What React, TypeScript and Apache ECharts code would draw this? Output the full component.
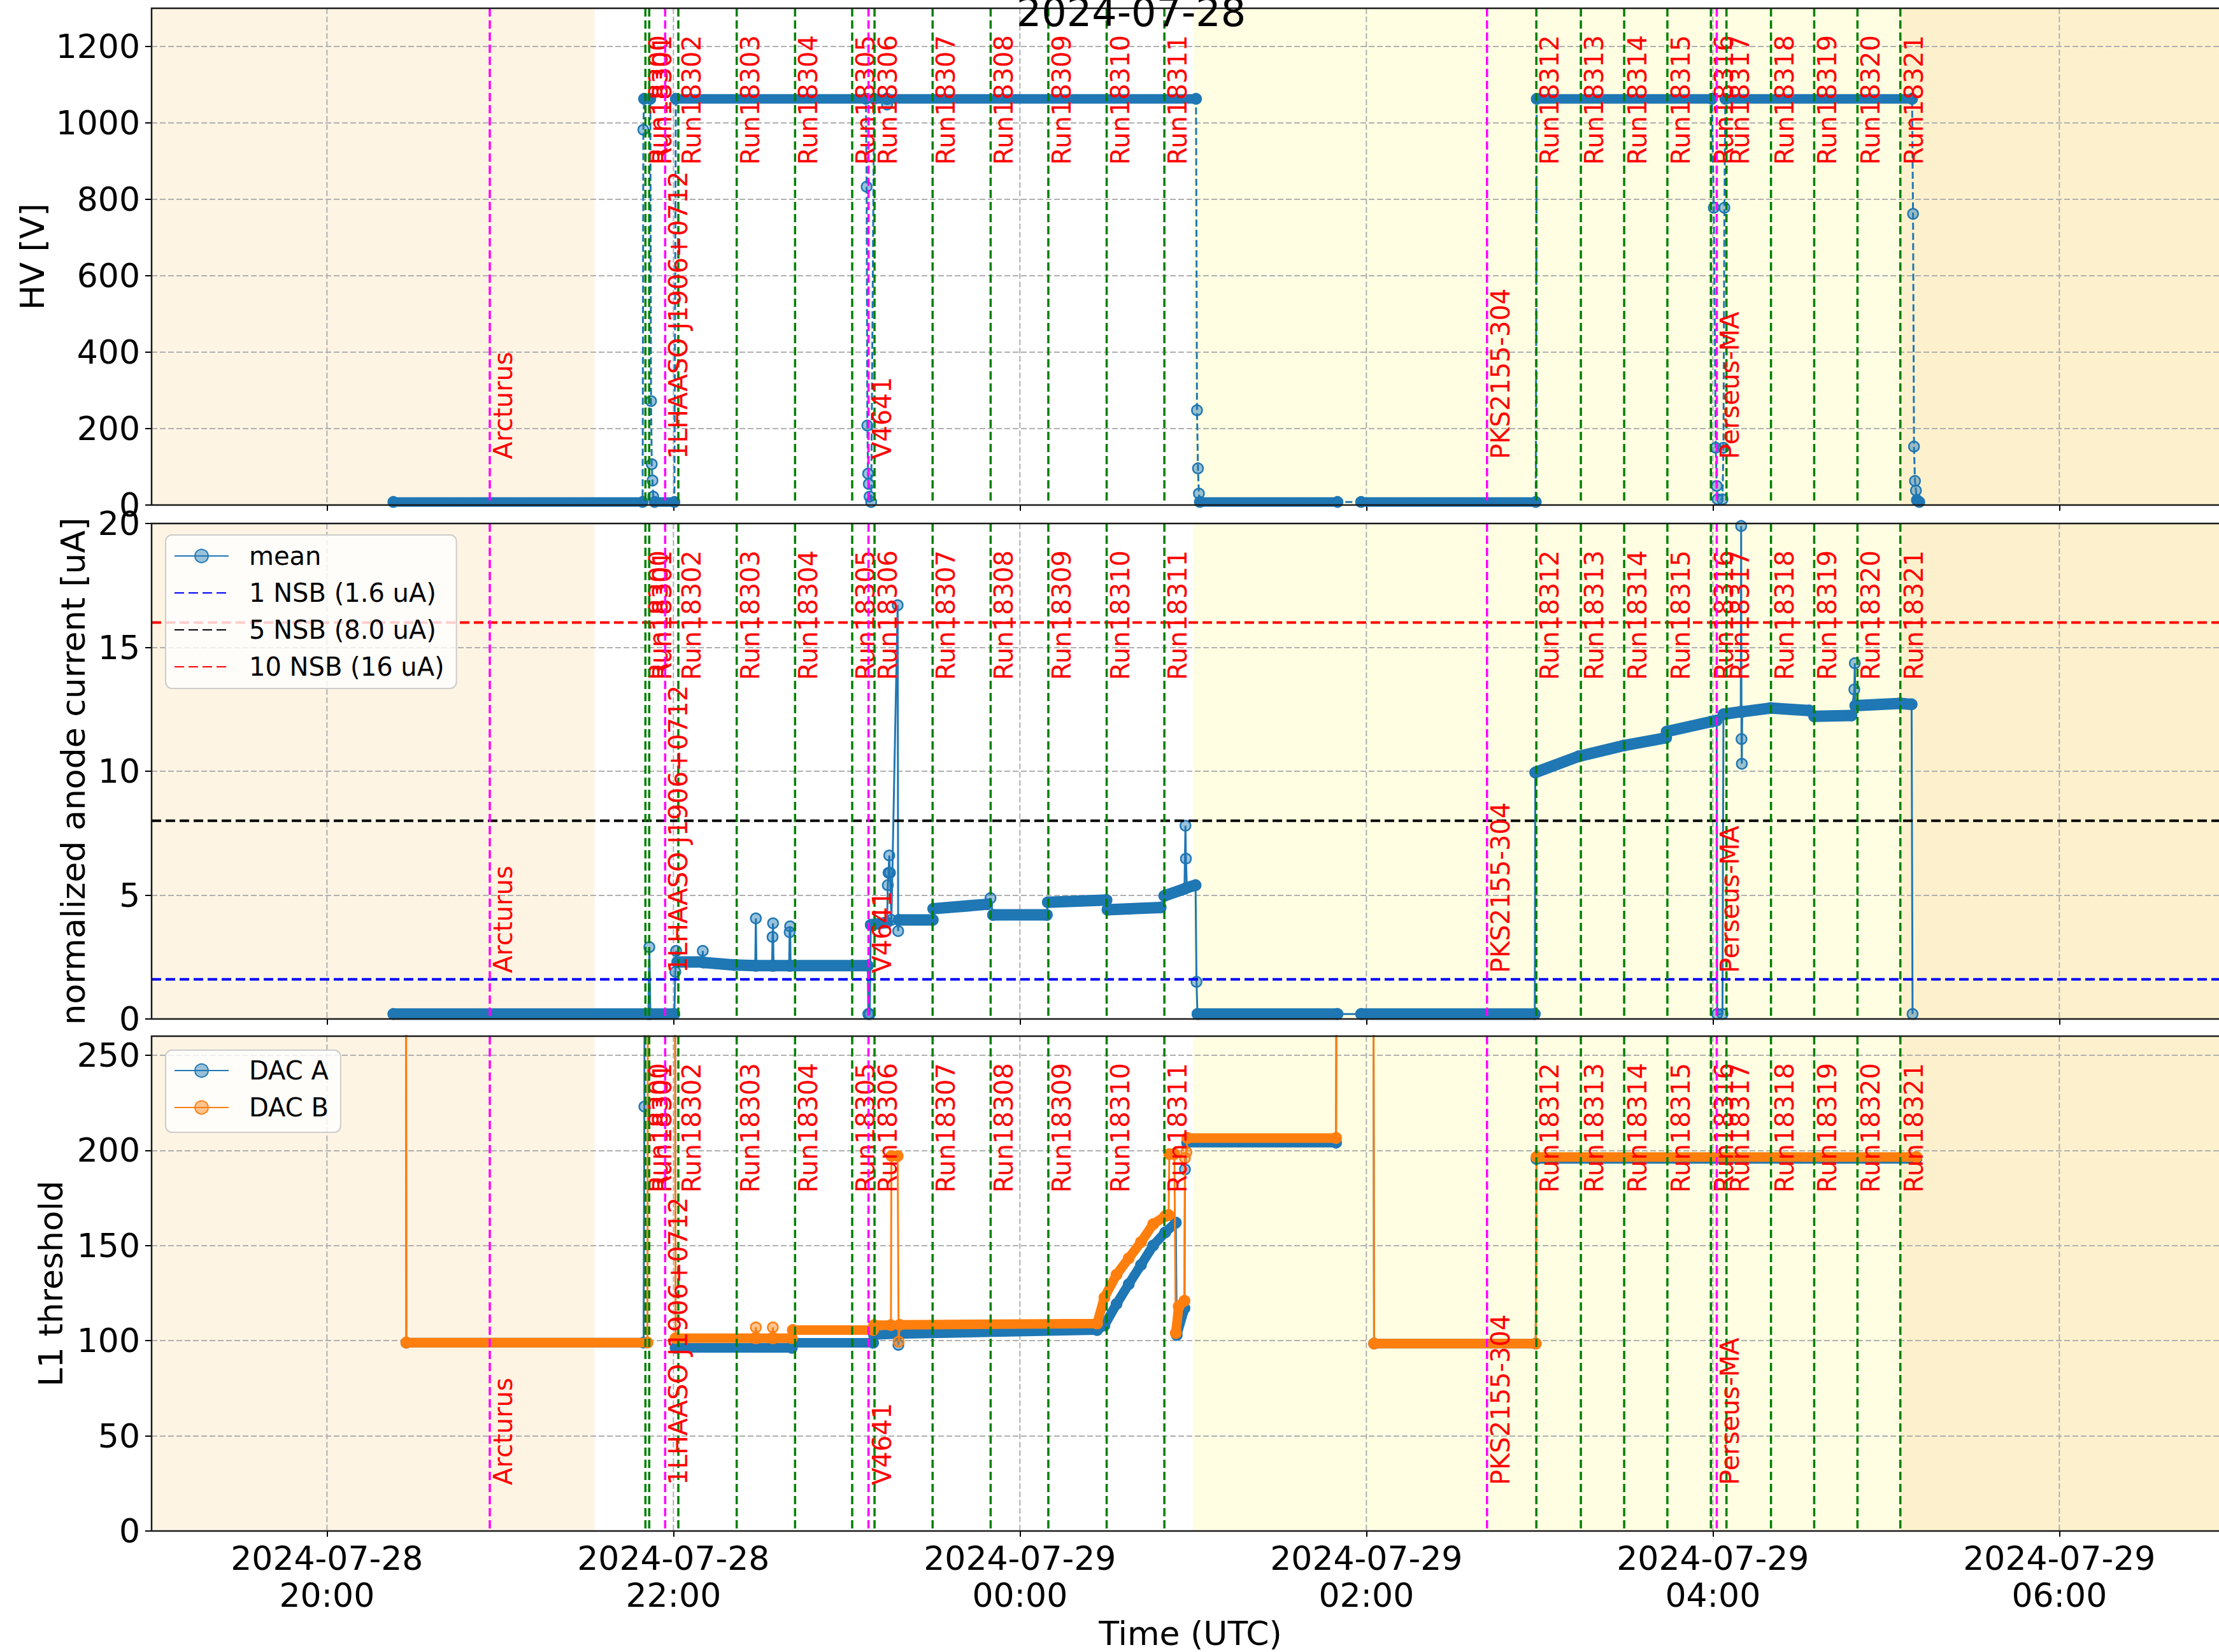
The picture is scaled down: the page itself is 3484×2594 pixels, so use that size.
import React, { useEffect, useRef } from "react";
import * as echarts from "echarts";

const FONT = "DejaVu Sans";
const BLUE = "#1f77b4";
const ORANGE = "#ff7f0e";
const BLUE_FILL = "rgba(31,119,180,0.45)";
const ORANGE_FILL = "rgba(255,127,14,0.45)";

// ---------- time helper (hours >= 12 are on 2024-07-28, others on 2024-07-29) ----------
const toMs = (s: string): number => {
  const [h, m, sec] = s.split(":").map(Number);
  return Date.UTC(2024, 6, h >= 12 ? 28 : 29, h, m, sec || 0);
};

// ---------- texts / ticks ----------
const titleText = "2024-07-28";
const xStart = "18:59:16";
const xEnd = "06:55:18";
const xTickTimes = ["20:00:00", "22:00:00", "00:00:00", "02:00:00", "04:00:00", "06:00:00"];
const yNames = ["HV [V]", "normalized anode current [uA]", "L1 threshold"];
const yMaxes = [1300, 20, 260];
const ySteps = [200, 5, 50];

// ---------- background spans ----------
const bgSpanStarts = ["18:00:00", "00:59:56", "05:05:00"];
const bgSpanEnds = ["21:32:40", "05:05:00", "08:00:00"];
const bgColors = ["#fdf4e3", "#fffee3", "#fdf1cd"];

// ---------- runs & sources ----------
const runNames = [
  "Run18300", "Run18301", "Run18302", "Run18303", "Run18304", "Run18305", "Run18306", "Run18307",
  "Run18308", "Run18309", "Run18310", "Run18311", "Run18312", "Run18313", "Run18314", "Run18315",
  "Run18316", "Run18317", "Run18318", "Run18319", "Run18320", "Run18321",
];
const runTimes = [
  "21:50:18", "21:51:37", "22:01:42", "22:21:55", "22:42:08", "23:01:55", "23:09:39", "23:29:46",
  "23:49:52", "00:09:51", "00:30:03", "00:50:02", "02:58:52", "03:14:17", "03:29:17", "03:44:15",
  "03:59:19", "04:04:43", "04:20:08", "04:35:06", "04:50:05", "05:04:56",
];
const sourceNames = ["Arcturus", "1LHAASO J1906+0712", "V4641", "PKS2155-304", "Perseus-MA"];
const sourceTimes = ["20:56:24", "21:57:08", "23:07:34", "02:41:47", "04:01:21"];

// ---------- NSB reference levels ----------
const nsbNames = ["1 NSB (1.6 uA)", "5 NSB (8.0 uA)", "10 NSB (16 uA)"];
const nsbLevels = [1.6, 8.0, 16.0];
const nsbColors = ["#0000ff", "#000000", "#ff0000"];

// ---------- data: [time, value, dense-run-to-next-point flag] ----------
const hvPoints: [string, number, number][] = [
  ["20:23:00", 8, 1], ["21:49:20", 8, 0], ["21:49:35", 982, 0], ["21:49:50", 1063, 1],
  ["21:52:00", 1063, 0], ["21:52:15", 272, 0], ["21:52:30", 107, 0], ["21:52:45", 64, 0],
  ["21:53:00", 22, 0], ["21:53:30", 8, 1], ["22:00:20", 8, 0], ["22:00:50", 1063, 1],
  ["23:06:40", 1063, 0], ["23:06:55", 833, 0], ["23:07:10", 208, 0], ["23:07:25", 82, 0],
  ["23:07:40", 55, 0], ["23:07:55", 22, 0], ["23:08:30", 8, 0], ["23:09:30", 1063, 1],
  ["23:13:50", 1063, 0], ["23:14:00", 1048, 0], ["23:14:10", 1063, 1], ["01:01:00", 1063, 0],
  ["01:01:20", 248, 0], ["01:01:40", 96, 0], ["01:02:00", 30, 0], ["01:02:20", 8, 1],
  ["01:50:00", 8, 0], ["01:58:10", 8, 1], ["02:58:40", 8, 0], ["02:59:00", 1063, 1],
  ["03:59:40", 1063, 0], ["04:00:20", 778, 0], ["04:01:00", 150, 0], ["04:01:20", 50, 0],
  ["04:01:40", 15, 0], ["04:03:20", 15, 0], ["04:03:40", 150, 0], ["04:04:00", 778, 0],
  ["04:04:20", 1063, 1], ["05:09:00", 1063, 0], ["05:09:20", 762, 0], ["05:09:40", 153, 0],
  ["05:10:00", 63, 0], ["05:10:20", 38, 0], ["05:10:40", 13, 1], ["05:11:30", 8, 0],
];

const currentPoints: [string, number, number][] = [
  ["20:23:00", 0.2, 1], ["21:51:20", 0.2, 0], ["21:51:40", 2.9, 0], ["21:52:00", 0.2, 1],
  ["22:00:20", 0.2, 0], ["22:00:40", 1.9, 0], ["22:00:55", 2.75, 0], ["22:01:20", 2.3, 1],
  ["22:10:00", 2.3, 0], ["22:10:10", 2.75, 0], ["22:10:20", 2.28, 1], ["22:21:00", 2.18, 1],
  ["22:28:20", 2.15, 0], ["22:28:33", 4.06, 0], ["22:28:45", 2.15, 1], ["22:34:10", 2.15, 0],
  ["22:34:20", 3.31, 0], ["22:34:30", 3.86, 0], ["22:34:40", 2.15, 1], ["22:40:05", 2.15, 0],
  ["22:40:15", 3.5, 0], ["22:40:25", 3.74, 0], ["22:40:35", 2.15, 1], ["23:07:20", 2.15, 0],
  ["23:07:30", 0.2, 0], ["23:08:00", 0.2, 0], ["23:08:20", 3.8, 1], ["23:14:00", 3.9, 0],
  ["23:14:15", 5.4, 0], ["23:14:30", 5.9, 0], ["23:14:45", 6.6, 0], ["23:15:00", 5.9, 0],
  ["23:15:30", 4.0, 0], ["23:17:40", 16.7, 0], ["23:17:50", 3.55, 0], ["23:18:00", 4.0, 1],
  ["23:29:50", 4.0, 0], ["23:30:00", 4.45, 1], ["23:48:40", 4.63, 0], ["23:49:50", 4.88, 0],
  ["23:50:40", 4.2, 1], ["00:09:20", 4.2, 0], ["00:09:40", 4.71, 1], ["00:30:00", 4.8, 0],
  ["00:30:20", 4.41, 1], ["00:48:45", 4.5, 0], ["00:50:00", 4.97, 1], ["00:57:00", 5.25, 0],
  ["00:57:20", 7.8, 0], ["00:57:30", 6.47, 0], ["00:57:50", 5.3, 1], ["01:00:50", 5.4, 0],
  ["01:01:10", 1.5, 0], ["01:01:30", 0.2, 1], ["01:50:00", 0.2, 0], ["01:58:10", 0.2, 1],
  ["02:58:20", 0.2, 0], ["02:58:30", 9.95, 1], ["03:13:30", 10.6, 1], ["03:29:15", 11.04, 1],
  ["03:43:50", 11.35, 0], ["03:44:00", 11.6, 1], ["03:59:20", 12.0, 1], ["04:01:20", 12.05, 0],
  ["04:01:30", 0.2, 0], ["04:03:20", 0.2, 0], ["04:03:40", 12.3, 1], ["04:09:40", 12.4, 0],
  ["04:09:48", 19.9, 0], ["04:09:55", 11.3, 0], ["04:10:02", 10.3, 0], ["04:10:10", 12.4, 1],
  ["04:19:55", 12.55, 1], ["04:33:25", 12.45, 0], ["04:35:05", 12.22, 1], ["04:48:00", 12.25, 0],
  ["04:49:00", 13.3, 0], ["04:49:10", 14.36, 0], ["04:49:20", 12.65, 1], ["05:04:55", 12.74, 1],
  ["05:08:50", 12.7, 0], ["05:09:10", 0.2, 0],
];

const dacAPoints: [string, number, number][] = [
  ["20:27:20", 400, 0], ["20:27:30", 99, 1], ["21:49:40", 99, 0], ["21:49:56", 223, 0],
  ["21:50:10", 400, 0], ["22:00:30", 400, 0], ["22:00:45", 96.2, 1], ["22:41:00", 96.2, 0],
  ["22:41:20", 98.9, 1], ["23:09:10", 98.9, 0], ["23:09:30", 103, 1], ["23:17:40", 103.5, 0],
  ["23:17:55", 97.8, 0], ["23:18:10", 103.5, 1], ["00:26:44", 105.6, 1], ["00:29:16", 108, 1],
  ["00:33:28", 119.3, 1], ["00:37:42", 129.7, 1], ["00:41:56", 139.8, 1], ["00:46:09", 150, 1],
  ["00:50:21", 156.9, 1], ["00:54:00", 162, 0], ["00:54:20", 103, 1], ["00:57:00", 117, 0],
  ["00:57:10", 190, 0], ["00:57:55", 204, 1], ["01:49:30", 204, 0], ["01:49:50", 400, 0],
  ["02:02:20", 400, 0], ["02:02:40", 98.5, 1], ["02:58:40", 98.5, 0], ["02:58:55", 195.5, 1],
  ["05:10:30", 195.5, 0],
];

const dacBPoints: [string, number, number][] = [
  ["20:27:20", 400, 0], ["20:27:30", 99, 1], ["21:51:00", 99, 0], ["21:51:15", 400, 0],
  ["22:00:30", 400, 0], ["22:00:45", 101.3, 1], ["22:28:15", 101.3, 0], ["22:28:33", 107, 0],
  ["22:28:50", 101.3, 1], ["22:34:10", 101.3, 0], ["22:34:26", 107, 0], ["22:34:45", 101.3, 1],
  ["22:41:00", 101.3, 0], ["22:41:20", 105.6, 1], ["23:09:10", 105.6, 0], ["23:09:30", 108.2, 1],
  ["23:15:20", 108.2, 0], ["23:15:30", 197, 1], ["23:17:40", 197, 0], ["23:18:00", 99.5, 0],
  ["23:18:20", 108.3, 1], ["00:26:44", 109, 1], ["00:29:16", 122.7, 1], ["00:33:28", 134.7, 1],
  ["00:37:42", 143.3, 1], ["00:41:56", 151.8, 1], ["00:46:09", 161.2, 1], ["00:50:21", 165.5, 1],
  ["00:51:30", 166, 0], ["00:51:45", 198, 1], ["00:53:30", 198, 0], ["00:54:00", 104, 1],
  ["00:55:00", 118, 1], ["00:57:00", 121, 0], ["00:57:10", 196, 0], ["00:57:40", 199, 0],
  ["00:58:00", 206.5, 1], ["01:49:30", 206.5, 0], ["01:49:50", 400, 0], ["02:02:20", 400, 0],
  ["02:02:40", 98.5, 1], ["02:58:40", 98.5, 0], ["02:58:55", 196.5, 1], ["05:10:30", 196.5, 0],
];

// ---------- layout ----------
const LEFT = 238;
const RIGHT = 0;
const PLOT_W = 3484 - LEFT - RIGHT;
const panels = [
  { top: 13, height: 780, nameGap: 160 },
  { top: 822, height: 778, nameGap: 97 },
  { top: 1627, height: 777, nameGap: 132 },
];

// ---------- builders ----------
const toLine = (pts: [string, number, number][]) => pts.map((p) => [toMs(p[0]), p[1]]);
const toBands = (pts: [string, number, number][]) => {
  const out: any[] = [];
  for (let i = 0; i < pts.length - 1; i++) {
    if (!pts[i][2]) continue;
    const startsRun = i === 0 || !pts[i - 1][2];
    if (startsRun) {
      if (out.length) out.push([toMs(pts[i][0]), null]);
      out.push([toMs(pts[i][0]), pts[i][1]]);
    }
    out.push([toMs(pts[i + 1][0]), pts[i + 1][1]]);
  }
  return out;
};

const pad2 = (n: number) => String(n).padStart(2, "0");
const fmtTime = (v: number) => {
  const d = new Date(v);
  return `${d.getUTCFullYear()}-${pad2(d.getUTCMonth() + 1)}-${pad2(d.getUTCDate())}\n${pad2(
    d.getUTCHours()
  )}:${pad2(d.getUTCMinutes())}`;
};

const events = [
  ...runNames.map((n, i) => ({ name: n, t: toMs(runTimes[i]), kind: 0 })),
  ...sourceNames.map((n, i) => ({ name: n, t: toMs(sourceTimes[i]), kind: 1 })),
];

function buildOption() {
  const xMin = toMs(xStart);
  const xMax = toMs(xEnd);
  const xTicks = xTickTimes.map(toMs);
  const series: any[] = [];

  panels.forEach((p, g) => {
    // background spans
    series.push({
      type: "custom",
      xAxisIndex: g,
      yAxisIndex: g,
      z: -2,
      silent: true,
      clip: false,
      data: bgSpanStarts.map((s, i) => [toMs(s), 0, toMs(bgSpanEnds[i])]),
      renderItem: (params: any, api: any) => {
        const cs = params.coordSys;
        let x1 = api.coord([api.value(0), 0])[0];
        let x2 = api.coord([api.value(2), 0])[0];
        x1 = Math.max(x1, cs.x);
        x2 = Math.min(x2, cs.x + cs.width);
        if (x2 <= x1) return null;
        return {
          type: "rect",
          shape: { x: x1, y: cs.y, width: x2 - x1, height: cs.height },
          style: { fill: bgColors[params.dataIndex] },
        };
      },
    });
    // vertical grid lines
    series.push({
      type: "custom",
      xAxisIndex: g,
      yAxisIndex: g,
      z: -1,
      silent: true,
      clip: false,
      data: xTicks.map((t) => [t, 0]),
      renderItem: (params: any, api: any) => {
        const cs = params.coordSys;
        const x = api.coord([api.value(0), 0])[0];
        return {
          type: "line",
          shape: { x1: x, y1: cs.y, x2: x, y2: cs.y + cs.height },
          style: { stroke: "#b0b0b0", lineWidth: 2, lineDash: [9, 4] },
        };
      },
    });
  });

  const addPair = (
    g: number,
    name: string,
    pts: [string, number, number][],
    color: string,
    fill: string,
    bandWidth: number,
    dash: any,
    z: number
  ) => {
    series.push({
      type: "line",
      name: name + " band",
      xAxisIndex: g,
      yAxisIndex: g,
      data: toBands(pts),
      symbol: "none",
      showSymbol: false,
      connectNulls: false,
      lineStyle: { color, width: bandWidth, cap: "round", join: "round" },
      itemStyle: { color },
      z,
      silent: true,
    });
    series.push({
      type: "line",
      name,
      xAxisIndex: g,
      yAxisIndex: g,
      data: toLine(pts),
      symbol: "circle",
      symbolSize: 16,
      showSymbol: true,
      showAllSymbol: true,
      lineStyle: { color, width: 3, type: dash },
      itemStyle: { color: fill, borderColor: color, borderWidth: 2.5 },
      z: z + 1,
      silent: true,
    });
  };

  addPair(0, "HV", hvPoints, BLUE, BLUE_FILL, 15, [11, 5], 2);
  addPair(1, "mean", currentPoints, BLUE, BLUE_FILL, 18, "solid", 2);
  addPair(2, "DAC A", dacAPoints, BLUE, BLUE_FILL, 15, "solid", 2);
  addPair(2, "DAC B", dacBPoints, ORANGE, ORANGE_FILL, 15, "solid", 4);

  nsbLevels.forEach((lv, i) => {
    series.push({
      type: "line",
      name: nsbNames[i],
      xAxisIndex: 1,
      yAxisIndex: 1,
      data: [
        [xMin, lv],
        [xMax, lv],
      ],
      symbol: "none",
      showSymbol: false,
      lineStyle: { color: nsbColors[i], width: 4, type: [15, 7] },
      itemStyle: { color: nsbColors[i] },
      z: 6,
      silent: true,
    });
  });

  panels.forEach((p, g) => {
    series.push({
      type: "custom",
      xAxisIndex: g,
      yAxisIndex: g,
      z: 8,
      silent: true,
      clip: false,
      data: events.map((e) => [e.t, 0]),
      renderItem: (params: any, api: any) => {
        const cs = params.coordSys;
        const e = events[params.dataIndex];
        const x = api.coord([api.value(0), 0])[0];
        const isRun = e.kind === 0;
        return {
          type: "group",
          children: [
            {
              type: "line",
              shape: { x1: x, y1: cs.y, x2: x, y2: cs.y + cs.height },
              style: { stroke: isRun ? "#008000" : "#ff00ff", lineWidth: 3.5, lineDash: [13, 6] },
            },
            {
              type: "text",
              x: x + 1,
              y: isRun ? cs.y + 42 : cs.y + cs.height - 72,
              rotation: Math.PI / 2,
              style: {
                text: e.name,
                fill: "#ff0000",
                fontSize: 40,
                fontFamily: FONT,
                align: isRun ? "right" : "left",
                verticalAlign: "top",
              },
            },
          ],
        };
      },
    });
  });

  const legendCommon = {
    orient: "vertical",
    left: 260,
    itemWidth: 85,
    itemHeight: 26,
    itemGap: 12,
    backgroundColor: "rgba(255,255,255,0.8)",
    borderColor: "#cccccc",
    borderWidth: 2,
    borderRadius: 10,
    selectedMode: false,
    z: 20,
    textStyle: {
      fontSize: 40,
      lineHeight: 46,
      color: "#000",
      fontFamily: FONT,
      padding: [0, 0, 0, 27],
    },
  };

  return {
    animation: false,
    useUTC: true,
    backgroundColor: "#ffffff",
    textStyle: { fontFamily: FONT },
    grid: panels.map((p) => ({ left: LEFT, right: RIGHT, top: p.top, height: p.height })),
    xAxis: panels.map((p, i) => ({
      type: "value",
      gridIndex: i,
      min: xMin,
      max: xMax,
      axisLine: { show: false, onZero: false },
      axisTick: {
        show: true,
        length: 9,
        lineStyle: { color: "#000", width: 2 },
        customValues: xTicks,
      },
      axisLabel:
        i === 2
          ? {
              show: true,
              customValues: xTicks,
              formatter: fmtTime,
              fontSize: 52,
              lineHeight: 58,
              margin: 14,
              color: "#000",
              fontFamily: FONT,
            }
          : { show: false },
      splitLine: { show: false },
      name: i === 2 ? "Time (UTC)" : "",
      nameLocation: "middle",
      nameGap: 135,
      nameTextStyle: { fontSize: 52, color: "#000", fontFamily: FONT, padding: [0, 0, 0, 16] },
    })),
    yAxis: panels.map((p, i) => ({
      type: "value",
      gridIndex: i,
      min: 0,
      max: yMaxes[i],
      interval: ySteps[i],
      axisLine: { show: false, onZero: false },
      axisTick: { show: true, length: 10, lineStyle: { color: "#000", width: 2 } },
      axisLabel: {
        fontSize: 52,
        color: "#000",
        margin: 18,
        fontFamily: FONT,
        showMaxLabel: i === 1,
        showMinLabel: true,
        formatter: (v: number) => String(v),
      },
      splitLine: { show: true, lineStyle: { color: "#b0b0b0", width: 2, type: [9, 4] } },
      name: yNames[i],
      nameLocation: "middle",
      nameGap: p.nameGap,
      nameTextStyle: { fontSize: 52, color: "#000", fontFamily: FONT },
    })),
    legend: [
      {
        ...legendCommon,
        top: 840,
        padding: [10, 19, 11, 13],
        data: [
          "mean",
          ...nsbNames.map((n) => ({ name: n, itemStyle: { opacity: 0 } })),
        ],
      },
      { ...legendCommon, top: 1649, padding: [9, 19, 16, 13], data: ["DAC A", "DAC B"] },
    ],
    graphic: [
      ...panels.map((p) => ({
        type: "rect",
        silent: true,
        z: 100,
        shape: { x: LEFT, y: p.top, width: PLOT_W + 10, height: p.height },
        style: { fill: "none", stroke: "#1a1a1a", lineWidth: 2.5 },
      })),
      {
        type: "text",
        silent: true,
        z: 100,
        x: 1776,
        y: 50,
        style: {
          text: titleText,
          fontSize: 62,
          fontFamily: FONT,
          fill: "#000",
          align: "center",
          verticalAlign: "bottom",
        },
      },
    ],
    series,
  };
}

export default function App() {
  const ref = useRef<HTMLDivElement>(null);
  useEffect(() => {
    if (!ref.current) return;
    const chart = echarts.init(ref.current, null, { renderer: "svg" });
    chart.setOption(buildOption() as any);
    return () => chart.dispose();
  }, []);
  return (
    <div
      ref={ref}
      style={{
        position: "absolute",
        left: 0,
        top: 0,
        width: 3484,
        height: 2594,
        overflow: "hidden",
        background: "#fff",
      }}
    />
  );
}
